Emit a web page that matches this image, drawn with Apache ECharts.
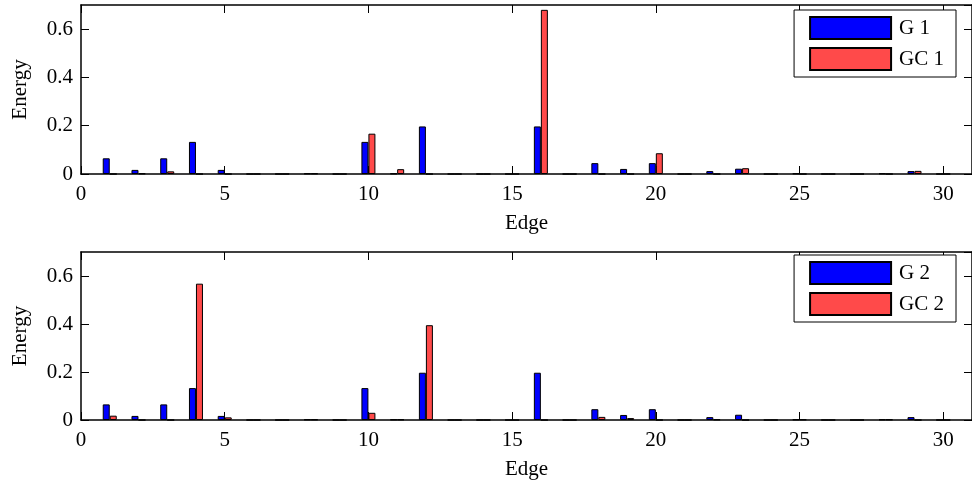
<!DOCTYPE html>
<html>
<head>
<meta charset="utf-8">
<title>Edge energy</title>
<script src="https://cdn.jsdelivr.net/npm/echarts@6/dist/echarts.min.js"></script>
<style>
  html, body { margin: 0; padding: 0; background: #fff; }
  #main { width: 972px; height: 487px; }
</style>
</head>
<body>
<div id="main"></div>
<script>
  // edges 1..30
  var edges = [];
  for (var e = 1; e <= 30; e++) edges.push(e);

  var g1  = [0.065, 0.017, 0.065, 0.133, 0.017, 0, 0, 0.002, 0, 0.133,
             0.002, 0.197, 0, 0, 0, 0.197, 0, 0.045, 0.021, 0.045,
             0, 0.012, 0.022, 0, 0.002, 0, 0, 0.002, 0.012, 0];
  var gc1 = [0, 0.002, 0.011, 0, 0, 0, 0, 0.002, 0, 0.167,
             0.02, 0, 0, 0, 0, 0.68, 0, 0, 0, 0.086,
             0, 0, 0.024, 0, 0, 0, 0, 0, 0.013, 0];
  var g2  = [0.065, 0.017, 0.065, 0.133, 0.017, 0, 0, 0.002, 0, 0.133,
             0.002, 0.197, 0, 0, 0, 0.197, 0, 0.045, 0.021, 0.045,
             0, 0.012, 0.022, 0, 0.002, 0, 0, 0.002, 0.012, 0];
  var gc2 = [0.018, 0, 0, 0.568, 0.011, 0, 0, 0.002, 0, 0.03,
             0.002, 0.395, 0, 0, 0, 0, 0, 0.013, 0.008, 0,
             0, 0.002, 0, 0, 0.002, 0, 0, 0.002, 0, 0];

  var xTicks = [0, 5, 10, 15, 20, 25, 30];
  var yTicks = [0, 0.2, 0.4, 0.6];

  var font = 'Liberation Serif';
  var fs = 21;
  var blue = '#0000ff';
  var red = '#ff4a4a';

  function pairs(vals) {
    return edges.map(function (x, i) { return [x, vals[i]]; });
  }

  function xAx(grid, top) {
    return {
      type: 'value', gridIndex: grid, min: 0, max: 31, interval: 5,
      position: top ? 'top' : 'bottom',
      name: top ? '' : 'Edge', nameLocation: 'middle', nameGap: 39,
      nameTextStyle: { fontFamily: font, fontSize: fs, color: '#000' },
      axisLine: { onZero: false, lineStyle: { color: '#000', width: 1.5 } },
      axisTick: { inside: true, length: 8, lineStyle: { color: '#000' } },
      axisLabel: {
        show: !top, fontFamily: font, fontSize: fs, color: '#000', margin: 10,
        showMaxLabel: false,
        formatter: function (v) { return xTicks.indexOf(v) >= 0 ? String(v) : ''; }
      },
      splitLine: { show: false }
    };
  }

  function yAx(grid, right) {
    return {
      type: 'value', gridIndex: grid, min: 0, max: 0.7, interval: 0.2,
      position: right ? 'right' : 'left',
      name: right ? '' : 'Energy', nameLocation: 'middle', nameGap: 50,
      nameTextStyle: { fontFamily: font, fontSize: fs, color: '#000' },
      axisLine: { show: true, onZero: false, lineStyle: { color: '#000', width: 1.5 } },
      axisTick: { show: true, inside: true, length: 8, lineStyle: { color: '#000' } },
      axisLabel: {
        show: !right, fontFamily: font, fontSize: fs, color: '#000', margin: 8,
        showMaxLabel: false,
        formatter: function (v) {
          var r = Math.round(v * 10) / 10;
          return yTicks.indexOf(r) >= 0 ? String(r) : '';
        }
      },
      splitLine: { show: false }
    };
  }

  function bar(name, vals, color, xi, yi) {
    return {
      name: name, type: 'bar', xAxisIndex: xi, yAxisIndex: yi,
      barWidth: 7, barGap: '0%',
      itemStyle: { color: color, borderColor: '#000', borderWidth: 1 },
      data: pairs(vals)
    };
  }

  function legend(names, top) {
    return {
      data: names, orient: 'vertical', right: 16, top: top,
      backgroundColor: '#fff', borderColor: '#000', borderWidth: 1,
      padding: [6, 12, 6, 15], itemGap: 7,
      itemWidth: 81, itemHeight: 22, icon: 'rect',
      textStyle: { fontFamily: font, fontSize: fs, color: '#000', padding: [0, 0, 0, 3] }
    };
  }

  var chart = echarts.init(document.getElementById('main'), null, { renderer: 'canvas' });
  chart.setOption({
    animation: false,
    backgroundColor: '#fff',
    grid: [
      { left: 81, top: 5, width: 894, height: 169 },
      { left: 81, top: 252, width: 894, height: 168 }
    ],
    xAxis: [xAx(0, false), xAx(0, true), xAx(1, false), xAx(1, true)],
    yAxis: [yAx(0, false), yAx(0, true), yAx(1, false), yAx(1, true)],
    legend: [legend(['G 1', 'GC 1'], 10), legend(['G 2', 'GC 2'], 255)],
    series: [
      bar('G 1', g1, blue, 0, 0),
      bar('GC 1', gc1, red, 0, 0),
      bar('G 2', g2, blue, 2, 2),
      bar('GC 2', gc2, red, 2, 2)
    ]
  });
</script>
</body>
</html>
